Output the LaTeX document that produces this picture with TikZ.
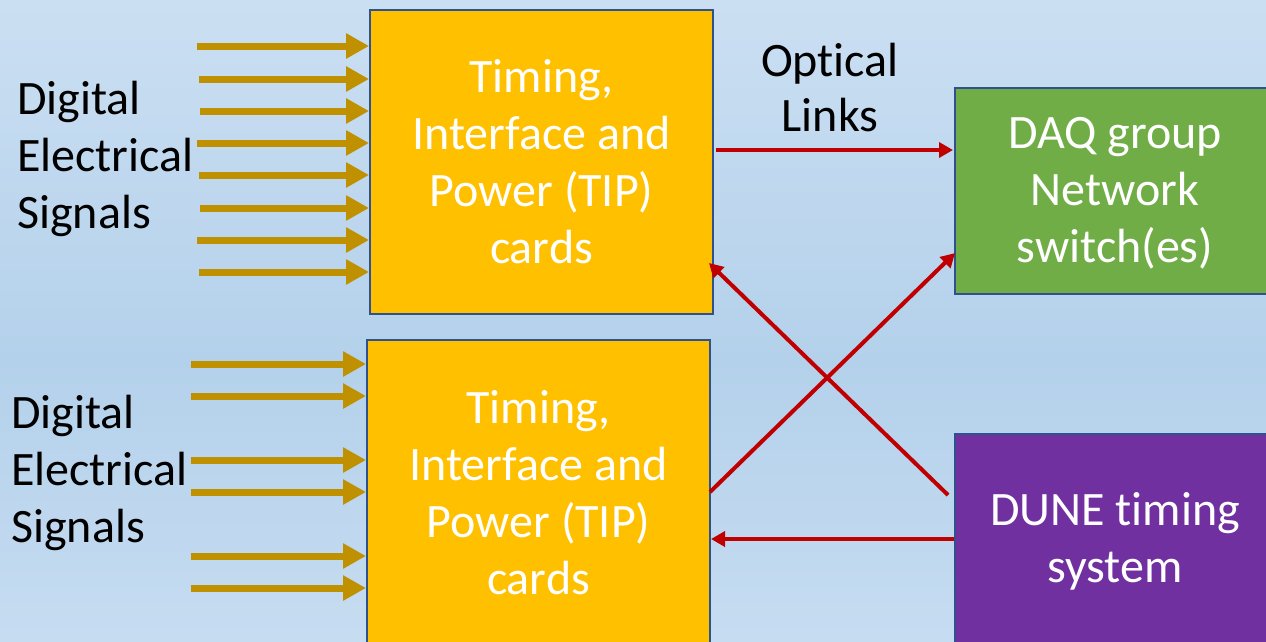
\documentclass[tikz,border=0pt]{standalone}
\usepackage{fontspec}
\setmainfont[Ligatures=NoCommon,RawFeature={-liga;-clig;-calt}]{Carlito}
\usetikzlibrary{arrows.meta}
\definecolor{bgtop}{RGB}{203,223,242}
\definecolor{bgmid}{RGB}{180,209,235}
\definecolor{bgbot}{RGB}{198,220,241}
\definecolor{boxblue}{RGB}{47,82,143}
\definecolor{tipfill}{RGB}{255,192,0}
\definecolor{daqfill}{RGB}{112,173,71}
\definecolor{dunefill}{RGB}{112,48,160}
\definecolor{goldarrow}{RGB}{191,144,0}
\definecolor{redarrow}{RGB}{192,0,0}
\tikzset{
  block/.style={draw=boxblue, line width=2pt, rectangle, inner sep=0pt, align=center,
    text=white, font=\fontsize{48}{57}\selectfont},
  lbl/.style={inner sep=0pt, align=left, text=black, font=\fontsize{48}{57}\selectfont},
  clbl/.style={inner sep=0pt, align=center, text=black, font=\fontsize{48}{55}\selectfont},
  sig/.style={draw=goldarrow, line width=7pt, -{Triangle[length=23pt,width=24pt]}},
  link/.style={draw=redarrow, line width=4pt, -{Triangle[length=14pt,width=15pt]}}
}
\begin{document}
\begin{tikzpicture}[x=1pt,y=-1pt]
\useasboundingbox (0,0) rectangle (1266,641);
\shade[top color=bgtop, bottom color=bgmid] (0,0) rectangle (1266,360);
\shade[top color=bgmid, bottom color=bgbot] (0,360) rectangle (1266,641);

\node[block, fill=tipfill, minimum width=343pt, minimum height=304pt] (t1) at (541.5,162)
  {Timing,\\Interface and\\Power (TIP)\\cards};
\node[block, fill=tipfill, minimum width=343pt, minimum height=306pt] (t2) at (538.5,493)
  {Timing,\\Interface and\\Power (TIP)\\cards};
\node[block, fill=daqfill, minimum width=320pt, minimum height=206pt] (daq) at (1115,191) {};
\node[block, fill=dunefill, minimum width=320pt, minimum height=212pt] (dune) at (1115,540) {};
\node[block, draw=none, anchor=center] (daqtxt) at (1115,193) {DAQ group\\Network\\switch(es)};
\node[block, draw=none, anchor=center] (dunetxt) at (1115,541) {DUNE t\kern0pt iming\\system};

\node[lbl, anchor=west] (s1) at (17,159) {Digital\\Electrical\\Signals};
\node[lbl, anchor=west] (s2) at (11,473) {Digital\\Electrical\\Signals};
\node[clbl] (opt) at (830,88) {Opt\kern0pt ical\\Links};

\foreach \y/\x in {46/197,79/199,111/200,143/197,175/199,208/200,240/197,272/199}
  \draw[sig] (\x,\y) -- (t1.west |- 0,\y);
\foreach \y in {364,396,460,492,556,588}
  \draw[sig] (191,\y) -- (t2.west |- 0,\y);

\coordinate (a1) at (716,150);
\coordinate (a2) at (953,150);
\draw[link] (a1) -- (a2);
\coordinate (b1) at (948,495);
\coordinate (b2) at (709,263);
\draw[link] (b1) -- (b2);
\coordinate (c1) at (710,492);
\coordinate (c2) at (955,253);
\draw[link] (c1) -- (c2);
\draw[link] (dune.west |- 0,539) -- (t2.east |- 0,539);
\end{tikzpicture}
\end{document}
